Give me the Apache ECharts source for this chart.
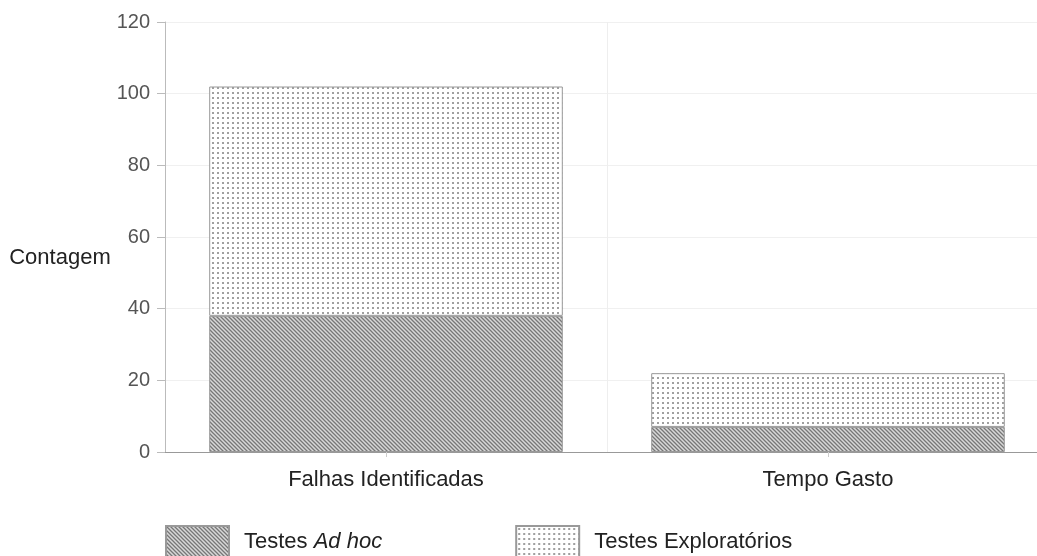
<!DOCTYPE html>
<html>
<head>
<meta charset="utf-8">
<script src="https://cdn.jsdelivr.net/npm/echarts@6/dist/echarts.min.js"></script>
<style>
  html, body { margin: 0; padding: 0; background: #fff; overflow: hidden; }
  #chart { width: 1049px; height: 556px; }
</style>
</head>
<body>
<div id="chart"></div>
<script>
// dados
var categorias = ['Falhas Identificadas', 'Tempo Gasto'];
var adHoc = [38, 7];
var exploratorios = [64, 15];
var yTicks = [0, 20, 40, 60, 80, 100, 120];

// padrão hachurado
function hachura() {
    var c = document.createElement('canvas');
    c.width = 4; c.height = 4;
    var g = c.getContext('2d');
    g.fillStyle = '#d8d8d8';
    g.fillRect(0, 0, 4, 4);
    g.strokeStyle = '#777';
    g.lineWidth = 1.3;
    g.beginPath();
    g.moveTo(0, 0); g.lineTo(4, 4);
    g.moveTo(-1, 3); g.lineTo(1, 5);
    g.moveTo(3, -1); g.lineTo(5, 1);
    g.stroke();
    return c;
}
// padrão pontilhado
function pontos() {
    var c = document.createElement('canvas');
    c.width = 5; c.height = 5;
    var g = c.getContext('2d');
    g.fillStyle = '#fff';
    g.fillRect(0, 0, 5, 5);
    g.fillStyle = '#a0a0a0';
    g.fillRect(2, 2, 2, 2);
    return c;
}

var fonte = 'Liberation Sans';
var myChart = echarts.init(document.getElementById('chart'));
myChart.setOption({
    animation: false,
    grid: { left: 165, top: 22, right: 0, height: 430 },
    legend: {
        left: 165,
        top: 525,
        padding: 0,
        itemWidth: 63,
        itemHeight: 32,
        itemGap: 133,
        icon: 'rect',
        data: ['Testes Ad hoc', 'Testes Exploratórios'],
        formatter: function (n) {
            if (n === 'Testes Ad hoc') return '{a|Testes }{b|Ad hoc}';
            return '{a|' + n + '}';
        },
        textStyle: {
            rich: {
                a: { fontSize: 22, color: '#222', fontFamily: fonte, padding: [0, 0, 0, 10] },
                b: { fontSize: 22, color: '#222', fontStyle: 'italic', fontFamily: fonte }
            }
        }
    },
    xAxis: {
        type: 'category',
        data: categorias,
        axisLine: { lineStyle: { color: '#999' } },
        axisTick: { show: true, alignWithLabel: true, length: 5, lineStyle: { color: '#ccc' } },
        splitLine: { show: true, lineStyle: { color: '#eee' } },
        axisLabel: { fontSize: 22, color: '#222', margin: 17, fontFamily: fonte }
    },
    yAxis: {
        type: 'value',
        min: yTicks[0],
        max: yTicks[yTicks.length - 1],
        interval: 20,
        name: 'Contagem',
        nameLocation: 'middle',
        nameRotate: 0,
        nameGap: 51,
        nameTextStyle: {
            fontSize: 22, color: '#222', align: 'right', fontFamily: fonte,
            verticalAlign: 'top', lineHeight: 42
        },
        axisLine: { show: true, lineStyle: { color: '#bbb' } },
        axisTick: { show: true, length: 8, lineStyle: { color: '#bbb' } },
        splitLine: { lineStyle: { color: '#f0f0f0' } },
        axisLabel: { fontSize: 20, color: '#555', margin: 15, fontFamily: fonte }
    },
    series: [
        {
            name: 'Testes Ad hoc',
            type: 'bar',
            stack: 'total',
            barWidth: '80%',
            data: adHoc,
            itemStyle: { color: { image: hachura(), repeat: 'repeat' }, borderColor: '#999', borderWidth: 1 }
        },
        {
            name: 'Testes Exploratórios',
            type: 'bar',
            stack: 'total',
            barWidth: '80%',
            data: exploratorios,
            itemStyle: { color: { image: pontos(), repeat: 'repeat' }, borderColor: '#999', borderWidth: 1 }
        }
    ]
});
</script>
</body>
</html>
